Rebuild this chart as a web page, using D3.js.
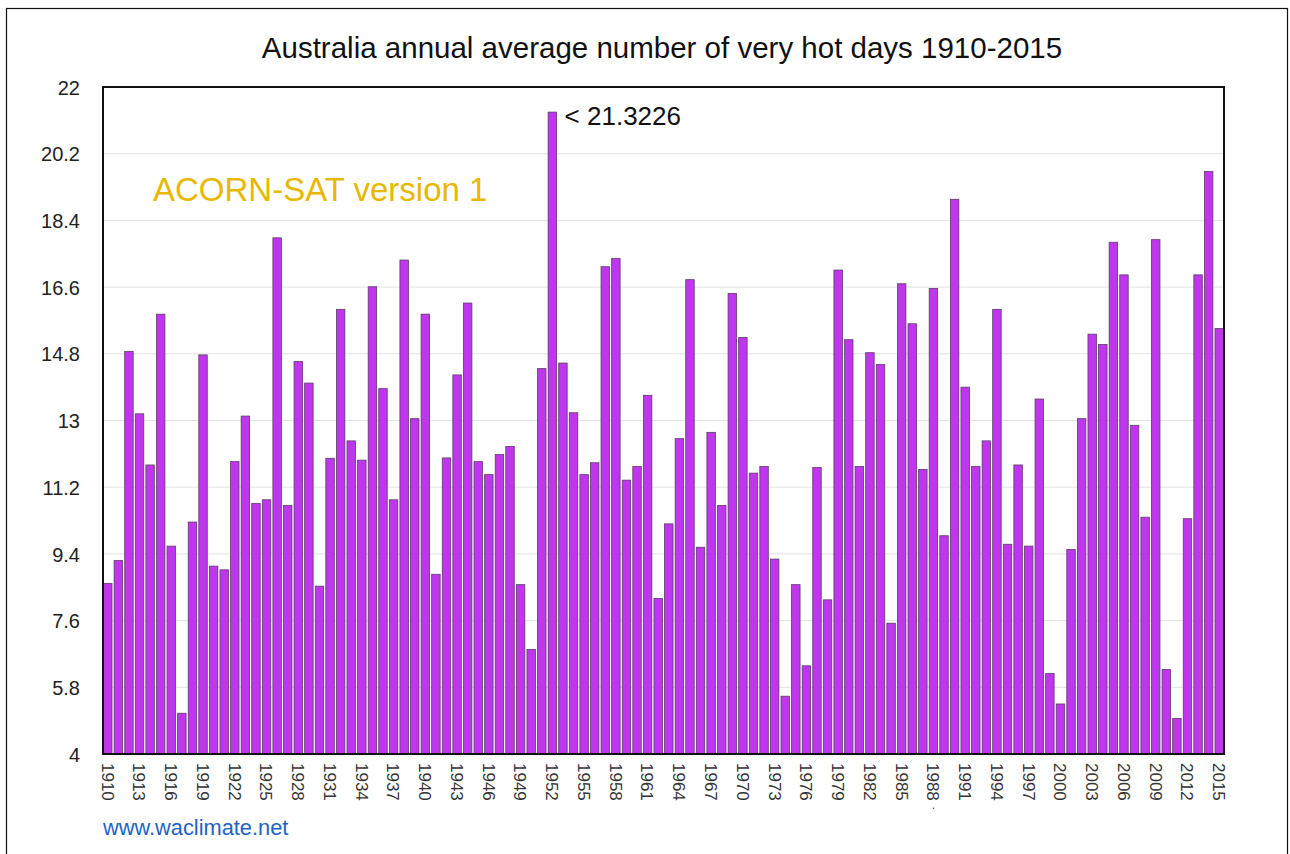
<!DOCTYPE html>
<html>
<head>
<meta charset="utf-8">
<script src="https://cdn.jsdelivr.net/npm/d3@7"></script>
<style>
  body { margin: 0; background: #fff; }
  svg { font-family: "Liberation Sans", Arial, Helvetica, sans-serif; }
</style>
</head>
<body>
<div id="chart"></div>
<script>
// years 1910-2015
var years = d3.range(1910, 2016)

// annual average number of very hot days
var hotDays = [
  8.60, 9.22, 14.86, 13.18, 11.80, 15.87, 9.61, 5.10, 10.26, 14.77,
  9.07, 8.97, 11.89, 13.12, 10.76, 10.86, 17.93, 10.71, 14.59, 14.01,
  8.53, 11.98, 16.00, 12.45, 11.93, 16.61, 13.86, 10.86, 17.33, 13.05,
  15.87, 8.85, 11.99, 14.23, 16.17, 11.89, 11.54, 12.08, 12.30, 8.57,
  6.82, 14.40, 21.3226, 14.55, 13.21, 11.54, 11.86, 17.15, 17.37, 11.39,
  11.76, 13.68, 8.20, 10.21, 12.51, 16.80, 9.58, 12.68, 10.71, 16.43,
  15.24, 11.58, 11.76, 9.26, 5.56, 8.57, 6.38, 11.73, 8.16, 17.06,
  15.18, 11.76, 14.83, 14.51, 7.53, 16.69, 15.61, 11.68, 16.56, 9.89,
  18.97, 13.90, 11.76, 12.45, 16.00, 9.66, 11.80, 9.61, 13.58, 6.17,
  5.35, 9.52, 13.05, 15.33, 15.05, 17.81, 16.93, 12.87, 10.39, 17.88,
  6.28, 4.96, 10.35, 16.93, 19.72, 15.48
]

var yTicks = [4, 5.8, 7.6, 9.4, 11.2, 13, 14.8, 16.6, 18.4, 20.2, 22]
var xTickYears = years.filter(function(y){ return (y - 1910) % 3 === 0 })

var width = 1290, height = 854
var plot = {left: 103, right: 1224, top: 87, bottom: 754}

var svg = d3.select("#chart")
  .append("svg")
  .attr("width", width)
  .attr("height", height)

// outer frame
svg.append("rect")
  .attr("x", 6.5).attr("y", 8.5)
  .attr("width", 1281).attr("height", 860)
  .style("fill", "none")
  .style("stroke", "#111")
  .style("stroke-width", 1.2)

var x = d3.scaleBand()
  .domain(years)
  .range([plot.left, plot.right])
  .paddingInner(0.2)
  .paddingOuter(0.05)

var y = d3.scaleLinear()
  .domain([4, 22])
  .range([plot.bottom, plot.top])

// gridlines
svg.append("g")
  .selectAll("line")
  .data(yTicks.slice(1, -1))
  .enter().append("line")
    .attr("x1", plot.left).attr("x2", plot.right)
    .attr("y1", function(d){ return y(d) }).attr("y2", function(d){ return y(d) })
    .style("stroke", "#e2e2e2")
    .style("stroke-width", 1)

// bars
svg.append("g")
  .selectAll("rect")
  .data(hotDays)
  .enter().append("rect")
    .attr("x", function(d, i){ return x(years[i]) })
    .attr("y", function(d){ return y(d) })
    .attr("width", x.bandwidth())
    .attr("height", function(d){ return y(4) - y(d) })
    .style("fill", "#bf36ee")
    .style("stroke", "#5b3d66")
    .style("stroke-width", 0.8)

// plot frame
svg.append("rect")
  .attr("x", plot.left).attr("y", plot.top)
  .attr("width", plot.right - plot.left).attr("height", plot.bottom - plot.top)
  .style("fill", "none")
  .style("stroke", "#111")
  .style("stroke-width", 2)

// y axis labels
svg.append("g")
  .selectAll("text")
  .data(yTicks)
  .enter().append("text")
    .attr("x", 80)
    .attr("y", function(d){ return y(d) })
    .attr("dy", "0.38em")
    .attr("text-anchor", "end")
    .style("font-size", "20px")
    .style("fill", "#222")
    .text(function(d){ return d })

// x axis labels, rotated
svg.append("g")
  .selectAll("text")
  .data(xTickYears)
  .enter().append("text")
    .attr("transform", function(d){
      return "translate(" + (x(d) + x.bandwidth() / 2) + ",763) rotate(90)"
    })
    .attr("dy", "0.36em")
    .attr("text-anchor", "start")
    .style("font-size", "17px")
    .style("fill", "#333")
    .text(function(d){ return d })

// stray dot under 1988
svg.append("text")
  .attr("x", x(1988) + x.bandwidth() / 2)
  .attr("y", 809)
  .attr("text-anchor", "middle")
  .style("font-size", "12px")
  .style("fill", "#444")
  .text(".")

// title
svg.append("text")
  .attr("x", 662)
  .attr("y", 58)
  .attr("text-anchor", "middle")
  .style("font-size", "29.5px")
  .style("fill", "#111")
  .text("Australia annual average number of very hot days 1910-2015")

svg.append("text")
  .attr("x", 153)
  .attr("y", 201)
  .style("font-size", "33px")
  .style("fill", "#e8b800")
  .text("ACORN-SAT version 1")

svg.append("text")
  .attr("x", x(1952) + x.bandwidth() + 8)
  .attr("y", 125)
  .style("font-size", "26px")
  .style("fill", "#111")
  .text("< 21.3226")

svg.append("text")
  .attr("x", 103)
  .attr("y", 835)
  .style("font-size", "21.8px")
  .style("fill", "#1f63c6")
  .text("www.waclimate.net")
</script>
</body>
</html>
